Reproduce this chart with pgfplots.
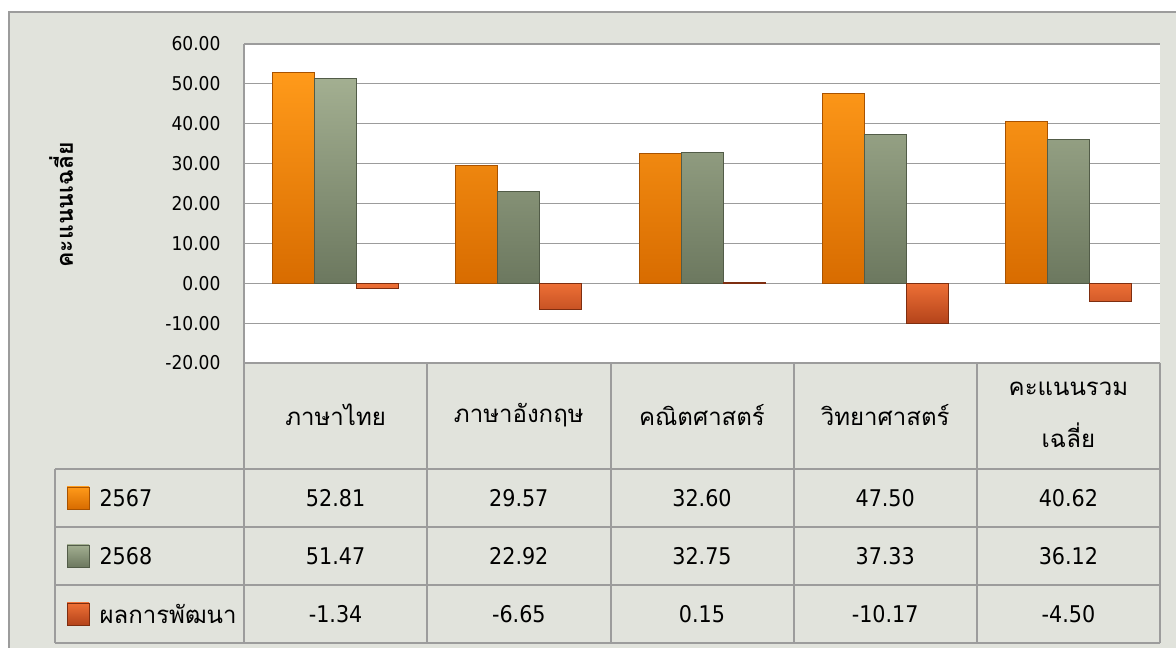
\documentclass[border=0pt]{standalone}
\usepackage{fontspec}
\usepackage{pgfplots}
\usepackage{pgfplotstable}
\pgfplotsset{compat=1.18}
\setmainfont{DejaVu Sans Condensed}
\newfontfamily\thai[Script=Thai]{Loma}
\definecolor{chartgray}{HTML}{E1E3DC}
\definecolor{gridgray}{HTML}{9C9C9C}
\definecolor{orTop}{HTML}{FF9A1A}
\definecolor{orMid}{HTML}{F88600}
\definecolor{orBot}{HTML}{D86C00}
\definecolor{orEdge}{HTML}{A85200}
\definecolor{grTop}{HTML}{A3AF91}
\definecolor{grMid}{HTML}{8E9A7C}
\definecolor{grBot}{HTML}{6C785F}
\definecolor{grEdge}{HTML}{525C48}
\definecolor{rdTop}{HTML}{EE7036}
\definecolor{rdMid}{HTML}{D25422}
\definecolor{rdBot}{HTML}{B3431A}
\definecolor{rdEdge}{HTML}{7E2E10}
\pgfplotstableread{
x a b c
0 52.81 51.47 -1.34
1 29.57 22.92 -6.65
2 32.60 32.75 0.15
3 47.50 37.33 -10.17
4 40.62 36.12 -4.50
}\data
\begin{document}
\begin{tikzpicture}[x=1pt,y=1pt]
\useasboundingbox (0,0) rectangle (1176,648);
\clip (0,0) rectangle (1176,648);
% chart area
\filldraw[fill=chartgray, draw=gridgray, line width=1.2pt] (9,-10) rectangle (1190,636);
% y label
\node[rotate=90, font=\thai\bfseries\fontsize{23}{27}\selectfont] at (61,443) {คะแนนเฉลี่ย};
\begin{axis}[
  at={(244pt,285pt)}, anchor=south west,
  width=916pt, height=319pt, scale only axis,
  xmin=-0.5, xmax=4.5, ymin=-20, ymax=60,
  ytick={-20,-10,...,60},
  xtick=\empty,
  ybar=0pt, bar width=42pt,
  axis background/.style={fill=white},
  axis x line=none,
  axis y line*=left,
  y axis line style={draw=gridgray, line width=1.4pt},
  ymajorgrids, grid style={draw=gridgray, line width=1.2pt},
  ytick style={draw=none},
  /pgf/number format/.cd, fixed, fixed zerofill, precision=2, assume math mode=true,
  /pgfplots/.cd,
  yticklabel style={font=\fontsize{19}{23}\selectfont, xshift=-20pt},
  clip=false,
]
\addplot[draw=orEdge, line width=0.8pt, top color=orTop, middle color=orMid, bottom color=orBot] table[x=x,y=a] {\data};
\addplot[draw=grEdge, line width=0.8pt, top color=grTop, middle color=grMid, bottom color=grBot] table[x=x,y=b] {\data};
\addplot[draw=rdEdge, line width=0.8pt, top color=rdTop, middle color=rdMid, bottom color=rdBot] table[x=x,y=c] {\data};
\end{axis}
% table lines
\begin{scope}[draw=gridgray, line width=1.2pt]
\draw (244,285) -- (1160,285);
\foreach \xx in {244,427,611,794,977,1160} \draw (\xx,285) -- (\xx,5);
\foreach \yy in {179,121,63,5} \draw (55,\yy) -- (1160,\yy);
\draw (55,179) -- (55,5);
\end{scope}
% header
\begin{scope}[font=\thai\fontsize{24}{28}\selectfont]
\node at (335.6,233) {ภาษาไทย};
\node at (518.8,233) {ภาษาอังกฤษ};
\node at (702,233) {คณิตศาสตร์};
\node at (885.2,233) {วิทยาศาสตร์};
\node at (1068.4,259) {คะแนนรวม};
\node at (1068.4,213) {เฉลี่ย};
\end{scope}
% legend keys
\shade[top color=orTop, bottom color=orBot, draw=orEdge] (67,139) rectangle (89,161);
\shade[top color=grTop, bottom color=grBot, draw=grEdge] (67,81) rectangle (89,103);
\shade[top color=rdTop, bottom color=rdBot, draw=rdEdge] (67,23) rectangle (89,45);
\begin{scope}[font=\fontsize{23}{27}\selectfont]
\node[anchor=west] at (96,150) {2567};
\node[anchor=west] at (96,92) {2568};
\node[anchor=west, font=\thai\fontsize{24}{28}\selectfont] at (96,34) {ผลการพัฒนา};
\foreach \xx/\va/\vb/\vc in {335.6/52.81/51.47/-1.34, 518.8/29.57/22.92/-6.65, 702/32.60/32.75/0.15, 885.2/47.50/37.33/-10.17, 1068.4/40.62/36.12/-4.50}{
  \node at (\xx,150) {\va};
  \node at (\xx,92) {\vb};
  \node at (\xx,34) {\vc};
}
\end{scope}
\end{tikzpicture}
\end{document}
